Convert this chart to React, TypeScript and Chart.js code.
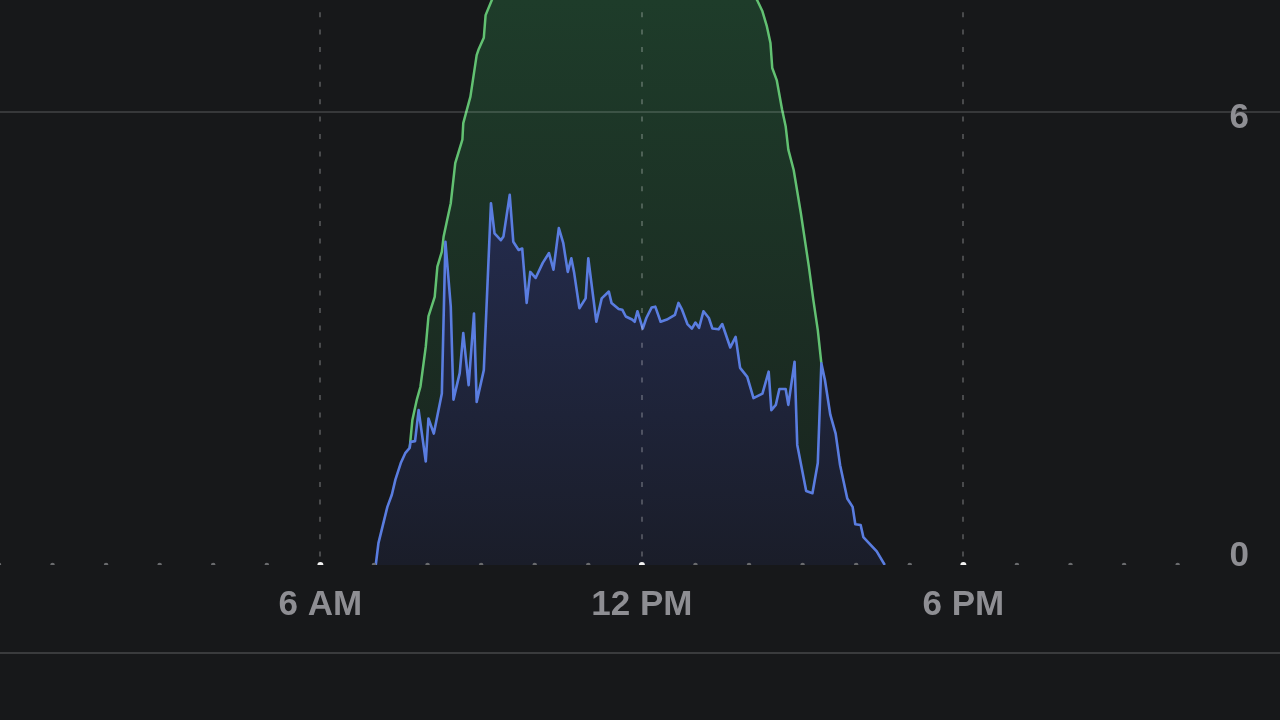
import React, { useEffect, useRef } from 'react';
import { Chart, registerables } from 'chart.js';

Chart.register(...registerables);

// X axis: hours of the day
const tickHours = [6, 12, 18];
const tickLabels = ['6 AM', '12 PM', '6 PM'];
const hourMarks = [0, 1, 2, 3, 4, 5, 6, 7, 8, 9, 10, 11, 12, 13, 14, 15, 16, 17, 18, 19, 20, 21, 22];

// Y axis ticks
const yTopTick = 6;
const yBottomTick = 0;
const yMax = 7.48;

// Blue series (usage)
const blueTimes = [
  '7:02', '7:05', '7:15', '7:20', '7:24', '7:30', '7:35', '7:40', '7:41', '7:46',
  '7:50', '7:58', '8:01', '8:07', '8:16', '8:20', '8:26', '8:29', '8:36', '8:40',
  '8:46', '8:52', '8:55', '9:03', '9:11', '9:15', '9:22', '9:25', '9:32', '9:36',
  '9:42', '9:46', '9:51', '9:55', '10:01', '10:09', '10:16', '10:21', '10:27', '10:32',
  '10:37', '10:41', '10:44', '10:50', '10:57', '11:00', '11:09', '11:15', '11:23', '11:26',
  '11:34', '11:38', '11:42', '11:49', '11:52', '11:55', '12:01', '12:05', '12:11', '12:15',
  '12:21', '12:28', '12:37', '12:41', '12:45', '12:51', '12:56', '13:00', '13:04', '13:09',
  '13:15', '13:19', '13:26', '13:30', '13:39', '13:45', '13:50', '13:58', '14:05', '14:15',
  '14:22', '14:25', '14:30', '14:34', '14:41', '14:44', '14:51', '14:54', '15:04', '15:11',
  '15:17', '15:21', '15:25', '15:31', '15:37', '15:42', '15:50', '15:56', '15:59', '16:05',
  '16:08', '16:23', '16:32',
];
const blueValues = [
  0, 0.29, 0.77, 0.93, 1.13, 1.35, 1.48, 1.55, 1.63, 1.64,
  2.05, 1.37, 1.94, 1.74, 2.27, 4.28, 3.42, 2.19, 2.54, 3.07,
  2.38, 3.33, 2.16, 2.58, 4.79, 4.39, 4.30, 4.35, 4.90, 4.28,
  4.17, 4.19, 3.47, 3.88, 3.80, 4.00, 4.13, 3.91, 4.46, 4.26,
  3.88, 4.06, 3.88, 3.40, 3.53, 4.06, 3.22, 3.53, 3.62, 3.47,
  3.39, 3.38, 3.29, 3.25, 3.22, 3.36, 3.13, 3.27, 3.41, 3.42,
  3.22, 3.25, 3.31, 3.47, 3.38, 3.19, 3.13, 3.21, 3.14, 3.36,
  3.27, 3.13, 3.12, 3.19, 2.88, 3.02, 2.61, 2.49, 2.21, 2.27,
  2.56, 2.05, 2.12, 2.33, 2.33, 2.12, 2.69, 1.59, 0.98, 0.95,
  1.35, 2.67, 2.45, 1.99, 1.74, 1.32, 0.88, 0.77, 0.54, 0.53,
  0.37, 0.18, 0,
];

// Green series (production)
const greenTimes = [
  '7:40', '7:43', '7:48', '7:52', '7:58', '8:01', '8:08', '8:11', '8:16', '8:18',
  '8:22', '8:26', '8:31', '8:39', '8:40', '8:48', '8:55', '8:57', '9:03', '9:05',
  '9:12', '9:30', '10:00', '10:30', '11:00', '11:30', '12:00', '12:30', '13:00', '13:30',
  '13:50', '14:09', '14:15', '14:20', '14:24', '14:26', '14:31', '14:37', '14:41', '14:44',
  '14:50', '14:58', '15:07', '15:12', '15:17', '15:21',
];
const greenValues = [
  1.55, 1.92, 2.19, 2.36, 2.89, 3.29, 3.55, 3.95, 4.15, 4.35,
  4.57, 4.79, 5.32, 5.63, 5.85, 6.20, 6.75, 6.82, 6.98, 7.28,
  7.48, 7.85, 8.3, 8.6, 8.8, 8.9, 8.9, 8.8, 8.6, 8.2,
  7.85, 7.48, 7.33, 7.13, 6.91, 6.58, 6.42, 6.03, 5.81, 5.50,
  5.23, 4.66, 3.95, 3.51, 3.11, 2.67,
];

const toHour = (t: string) => {
  const [h, m] = t.split(':').map(Number);
  return h + m / 60;
};

const BG = '#17181a';
const LABEL_COLOR = '#8e8e93';

function blueFill(c: any) {
  const { ctx, chartArea } = c.chart;
  if (!chartArea) return 'rgb(30,36,60)';
  const g = ctx.createLinearGradient(0, chartArea.top, 0, chartArea.bottom);
  g.addColorStop(0, 'rgb(37,46,82)');
  g.addColorStop(0.34, 'rgb(36,44,78)');
  g.addColorStop(1, 'rgb(26,29,41)');
  return g;
}

function greenFill(c: any) {
  const { ctx, chartArea } = c.chart;
  if (!chartArea) return 'rgb(28,48,36)';
  const g = ctx.createLinearGradient(0, chartArea.top, 0, chartArea.bottom);
  g.addColorStop(0, 'rgb(30,60,42)');
  g.addColorStop(1, 'rgb(25,35,30)');
  return g;
}

export default function App() {
  const ref = useRef<HTMLCanvasElement>(null);

  useEffect(() => {
    const canvas = ref.current;
    if (!canvas) return;
    const font = { family: '"Liberation Sans", Arial, Helvetica, sans-serif', size: 35, weight: 'bold' as const };

    const yAxis = (tick: number, offset: number, showGrid: boolean) => ({
      type: 'linear',
      position: 'right',
      min: 0,
      max: yMax,
      afterBuildTicks: (s: any) => {
        s.ticks = [{ value: tick }];
      },
      afterFit: (s: any) => {
        s.paddingTop = 0;
        s.paddingBottom = 0;
        s.width = 0;
      },
      ticks: {
        mirror: true,
        padding: -31,
        crossAlign: 'near',
        color: LABEL_COLOR,
        font,
        labelOffset: offset,
        z: 2,
      },
      grid: {
        display: showGrid,
        color: 'rgba(255,255,255,0.14)',
        lineWidth: 2,
        drawTicks: false,
        z: 1,
      },
      border: { display: false },
    });

    const chart = new Chart(canvas, {
      type: 'line',
      data: {
        datasets: [
          {
            label: 'hours',
            data: hourMarks.map((h) => ({ x: h, y: 0 })),
            showLine: false,
            fill: false,
            clip: 0,
            pointRadius: (c: any) => (tickHours.includes(hourMarks[c.dataIndex]) ? 3 : 2.3),
            pointBackgroundColor: (c: any) => (tickHours.includes(hourMarks[c.dataIndex]) ? '#f2f2f2' : '#6a6b6e'),
            pointBorderWidth: 0,
            pointBorderColor: 'rgba(0,0,0,0)',
            pointHoverRadius: 0,
          } as any,
          {
            label: 'usage',
            data: blueTimes.map((t, i) => ({ x: toHour(t), y: blueValues[i] })),
            borderColor: '#5a7de0',
            borderWidth: 2.6,
            borderJoinStyle: 'round',
            pointRadius: 0,
            tension: 0,
            fill: 'origin',
            backgroundColor: blueFill,
          } as any,
          {
            label: 'solar',
            data: greenTimes.map((t, i) => ({ x: toHour(t), y: greenValues[i] })),
            borderColor: '#62c172',
            borderWidth: 2.5,
            borderJoinStyle: 'round',
            pointRadius: 0,
            tension: 0,
            fill: 1,
            backgroundColor: greenFill,
          } as any,
        ],
      },
      options: {
        responsive: false,
        animation: false,
        devicePixelRatio: 1,
        events: [],
        layout: { padding: 0, autoPadding: false },
        plugins: {
          legend: { display: false },
          tooltip: { enabled: false },
        },
        scales: {
          x: {
            type: 'linear',
            min: 0.02,
            max: 23.91,
            afterBuildTicks: (s: any) => {
              s.ticks = tickHours.map((v) => ({ value: v }));
            },
            afterFit: (s: any) => {
              s.height = 155;
              s.paddingLeft = 0;
              s.paddingRight = 0;
            },
            ticks: {
              callback: (v: any) => {
                const i = tickHours.indexOf(Number(v));
                return i >= 0 ? tickLabels[i] : '';
              },
              color: LABEL_COLOR,
              font,
              padding: 19,
              autoSkip: false,
              maxRotation: 0,
              minRotation: 0,
            },
            grid: {
              color: 'rgba(255,255,255,0.22)',
              lineWidth: 2,
              drawTicks: false,
              z: 1,
            },
            border: { display: false, dash: [5, 12.4], dashOffset: 5.2 },
          },
          y: yAxis(yTopTick, 7, true),
          y2: yAxis(yBottomTick, -9, false),
        },
      } as any,
    });

    return () => chart.destroy();
  }, []);

  return (
    <div
      style={{
        position: 'absolute',
        left: 0,
        top: 0,
        width: 1280,
        height: 720,
        background: BG,
        overflow: 'hidden',
      }}
    >
      <canvas ref={ref} width={1280} height={720} style={{ display: 'block', width: 1280, height: 720 }} />
      <div
        style={{
          position: 'absolute',
          left: 0,
          top: 652,
          width: 1280,
          height: 2,
          background: '#3a3b3d',
        }}
      />
    </div>
  );
}
